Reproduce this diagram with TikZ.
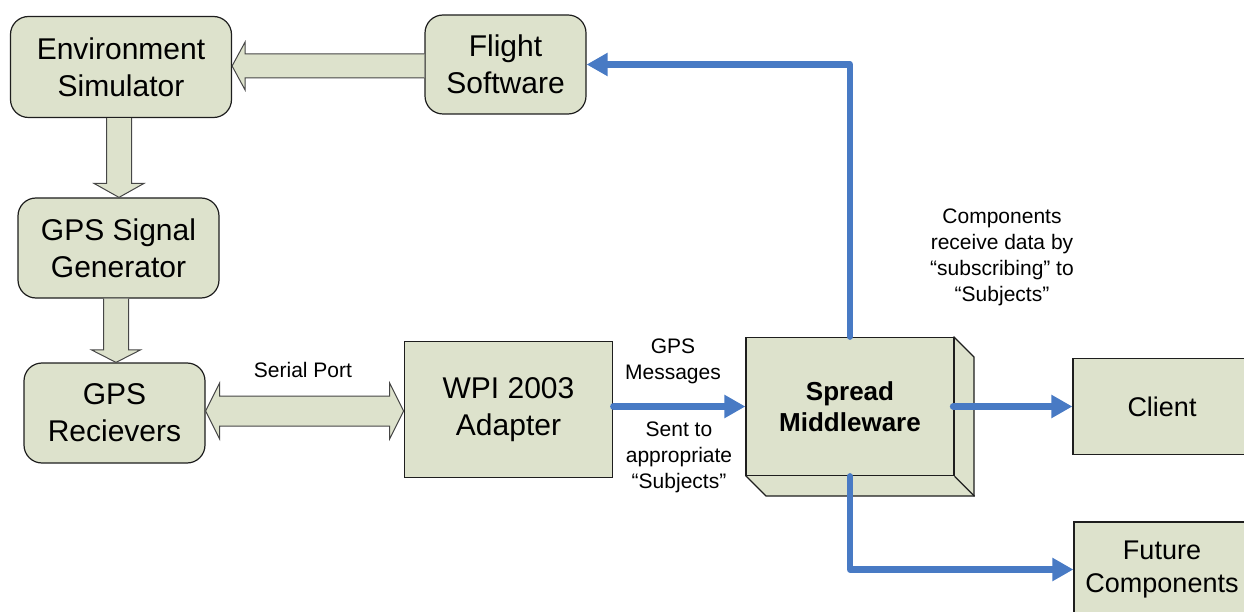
\documentclass[tikz,border=0pt]{standalone}
\usepackage{fontspec}
\setmainfont{Liberation Sans}
\usetikzlibrary{arrows.meta,calc}

\definecolor{boxfill}{RGB}{221,226,204}
\definecolor{boxline}{RGB}{30,30,30}
\definecolor{fatline}{RGB}{70,70,70}
\definecolor{busblue}{RGB}{72,122,196}

\tikzset{
  blockbase/.style={draw=boxline, fill=boxfill, line width=1.2pt, inner sep=0pt,
    align=center, font=\fontsize{30}{37}\selectfont},
  roundbox/.style={blockbase, rounded corners=18pt},
  flatbox/.style={blockbase},
  endbox/.style={blockbase, font=\fontsize{27}{33}\selectfont},
  fatarrow/.style={fill=boxfill, draw=fatline, line width=1pt, line join=miter},
  bus/.style={draw=busblue, line width=6.5pt, line cap=round, line join=round,
    -{Triangle[length=21pt,width=22pt]}},
  note/.style={align=center, inner sep=0pt, font=\fontsize{21}{26}\selectfont},
}

\begin{document}
\begin{tikzpicture}[x=1pt,y=-1pt]
  \useasboundingbox (0,0) rectangle (1244,612);
  \clip (0,0) rectangle (1244,612);

  % blocks of the simulation chain
  \node[roundbox, minimum width=221pt, minimum height=101pt] (env) at (121,67)
    {Environment\\Simulator};
  \node[roundbox, minimum width=161pt, minimum height=99pt] (flight) at (505.5,64.5)
    {Flight\\Software};
  \node[roundbox, minimum width=201pt, minimum height=100pt] (sig) at (118.5,248)
    {GPS Signal\\Generator};
  \node[roundbox, minimum width=181pt, minimum height=100pt] (rec) at (114.5,413)
    {GPS\\Recievers};
  \node[flatbox, minimum width=208.5pt, minimum height=135.5pt] (wpi) at (508.5,409.5)
    {WPI 2003\\Adapter};

  % middleware block with its depth faces
  \draw[fill=boxfill, draw=boxline, line width=1.2pt, line join=miter]
    (954,337) -- (974,357) -- (974,496) -- (766,496) -- (746,476) -- cycle;
  \node[flatbox, minimum width=208pt, minimum height=138.5pt,
        font=\fontsize{26}{31.5}\selectfont\bfseries] (spread) at (850,406.5)
    {Spread\\Middleware};
  \draw[draw=boxline, line width=1.2pt] (spread.south east) -- ++(20,20);

  % subscribers
  \node[endbox, minimum width=178pt, minimum height=96pt] (client) at (1162,406.5) {Client};
  \node[endbox, minimum width=176pt, minimum height=95pt] (future) at (1162,569.5)
    {Future\\Components};

  % wide hollow arrows
  \draw[fatarrow]
    (flight.west |- 0,54) -- ($(env.east |- 0,54)+(13,0)$) -- ($(env.east |- 0,42)+(13,0)$)
    -- (env.east |- 0,66) -- ($(env.east |- 0,90)+(13,0)$) -- ($(env.east |- 0,78)+(13,0)$)
    -- (flight.west |- 0,78);
  \draw[fatarrow]
    (106.5,0 |- env.south) -- ($(106.5,0 |- sig.north)+(0,-14)$) -- ($(94,0 |- sig.north)+(0,-14)$)
    -- (119,0 |- sig.north) -- ($(144,0 |- sig.north)+(0,-14)$) -- ($(131.5,0 |- sig.north)+(0,-14)$)
    -- (131.5,0 |- env.south);
  \draw[fatarrow]
    (103.5,0 |- sig.south) -- ($(103.5,0 |- rec.north)+(0,-12.5)$) -- ($(91.5,0 |- rec.north)+(0,-12.5)$)
    -- (116,0 |- rec.north) -- ($(140.5,0 |- rec.north)+(0,-12.5)$) -- ($(128.5,0 |- rec.north)+(0,-12.5)$)
    -- (128.5,0 |- sig.south);
  \draw[fatarrow]
    ($(rec.east |- 0,396)+(14,0)$) -- ($(wpi.west |- 0,396)+(-14,0)$) -- ($(wpi.west |- 0,383)+(-14,0)$)
    -- (wpi.west |- 0,411) -- ($(wpi.west |- 0,439)+(-14,0)$) -- ($(wpi.west |- 0,426)+(-14,0)$)
    -- ($(rec.east |- 0,426)+(14,0)$) -- ($(rec.east |- 0,439)+(14,0)$) -- (rec.east |- 0,411)
    -- ($(rec.east |- 0,383)+(14,0)$) -- cycle;
  \node[note] (serial) at (303,370) {Serial Port};

  % publish / subscribe connections
  \draw[bus] (wpi.east |- spread.west) -- (spread.west);
  \draw[bus] (spread.north) |- (flight.east);
  \draw[bus] ($(spread.east)+(-1.5,0)$) -- (spread.east -| client.west);
  \draw[bus] (spread.south) |- (future.west);

  % annotations
  \node[note] (gpsmsg) at (673,361) {GPS\\Messages};
  \node[note] (sentto) at (679,457) {Sent to\\appropriate\\“Subjects”};
  \node[note] (subs) at (1002,257) {Components\\receive data by\\“subscribing” to\\“Subjects”};
\end{tikzpicture}
\end{document}
